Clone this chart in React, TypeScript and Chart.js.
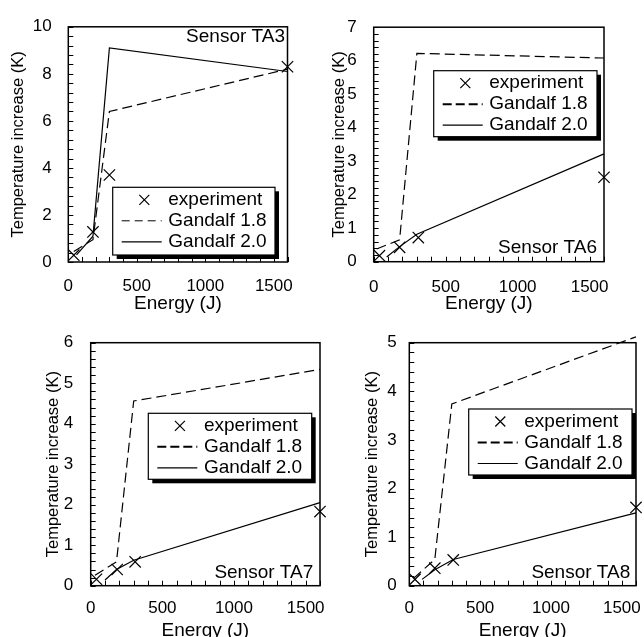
import React, { useEffect, useRef } from "react";
import { Chart, registerables } from "chart.js";
Chart.register(...registerables);

const FONT = "'Liberation Sans', Arial, Helvetica, sans-serif";
const INK = "#000";
const PAGE_W = 644;
const PAGE_H = 637;
const CW = 720;
const CH = 700;

// ---- shared axis data ----
const energyTicks = [0, 500, 1000, 1500];
const energyMax = 1600;
const energyMinorStep = 100;
const xTitle = "Energy (J)";
const yTitle = "Temperature increase (K)";
const seriesLabels = ["experiment", "Gandalf 1.8", "Gandalf 2.0"];

// ---- Sensor TA3 ----
const ta3Name = "Sensor TA3";
const ta3YTicks = [0, 2, 4, 6, 8, 10];
const ta3ExpE = [40, 180, 300, 1600];
const ta3ExpT = [0.29, 1.28, 3.7, 8.3];
const ta3G18E = [40, 180, 300, 1600];
const ta3G18T = [0.45, 0.95, 6.4, 8.2];
const ta3G20E = [60, 180, 300, 1600];
const ta3G20T = [0.3, 1.1, 9.1, 8.1];

// ---- Sensor TA6 ----
const ta6Name = "Sensor TA6";
const ta6YTicks = [0, 1, 2, 3, 4, 5, 6, 7];
const ta6ExpE = [40, 180, 310, 1600];
const ta6ExpT = [0.18, 0.43, 0.72, 2.52];
const ta6G18E = [20, 180, 300, 1600];
const ta6G18T = [0.38, 0.65, 6.22, 6.08];
const ta6G20E = [90, 180, 300, 1600];
const ta6G20T = [0.14, 0.45, 0.82, 3.22];

// ---- Sensor TA7 ----
const ta7Name = "Sensor TA7";
const ta7YTicks = [0, 1, 2, 3, 4, 5, 6];
const ta7ExpE = [40, 185, 310, 1600];
const ta7ExpT = [0.16, 0.4, 0.59, 1.83];
const ta7G18E = [30, 180, 300, 1600];
const ta7G18T = [0.26, 0.59, 4.56, 5.34];
const ta7G20E = [100, 180, 300, 1600];
const ta7G20T = [0.14, 0.4, 0.63, 2.05];

// ---- Sensor TA8 ----
const ta8Name = "Sensor TA8";
const ta8YTicks = [0, 1, 2, 3, 4, 5];
const ta8ExpE = [40, 180, 310, 1600];
const ta8ExpT = [0.13, 0.36, 0.53, 1.61];
const ta8G18E = [30, 180, 300, 1600];
const ta8G18T = [0.15, 0.54, 3.74, 5.12];
const ta8G20E = [90, 180, 310, 1600];
const ta8G20T = [0.13, 0.33, 0.54, 1.5];

type Layout = {
  left: number; right: number; top: number; bottom: number;
  yTitleX: number; yLabelPad: number; xLabelPad: number; xTitleY: number;
  legend: { x: number; y: number; w: number; h: number };
  legendDashWidth: number; legendDash: number[];
  sensorX: number; sensorY: number; yMinorStep: number;
};

type PanelCfg = {
  name: string; yTicks: number[];
  expE: number[]; expT: number[];
  g18E: number[]; g18T: number[];
  g20E: number[]; g20T: number[];
  layout: Layout;
};

const zip = (xs: number[], ys: number[]) => xs.map((x, i) => ({ x, y: ys[i] }));

const panels: PanelCfg[] = [
  {
    name: ta3Name, yTicks: ta3YTicks,
    expE: ta3ExpE, expT: ta3ExpT, g18E: ta3G18E, g18T: ta3G18T, g20E: ta3G20E, g20T: ta3G20T,
    layout: {
      left: 68.3, right: 287.5, top: 18, bottom: 262,
      yTitleX: 18.3, yLabelPad: 16.6, xLabelPad: 14.5, xTitleY: 303.3,
      legend: { x: 112.7, y: 187.3, w: 162.3, h: 67.7 },
      legendDashWidth: 1, legendDash: [8, 5],
      sensorX: 285, sensorY: 41.7, yMinorStep: 0.4,
    },
  },
  {
    name: ta6Name, yTicks: ta6YTicks,
    expE: ta6ExpE, expT: ta6ExpT, g18E: ta6G18E, g18T: ta6G18T, g20E: ta6G20E, g20T: ta6G20T,
    layout: {
      left: 373.7, right: 604, top: 18, bottom: 261.7,
      yTitleX: 339.5, yLabelPad: 17, xLabelPad: 15, xTitleY: 303.3,
      legend: { x: 433.7, y: 70.7, w: 163.3, h: 66 },
      legendDashWidth: 2, legendDash: [9, 4],
      sensorX: 597, sensorY: 253.3, yMinorStep: 0.2,
    },
  },
  {
    name: ta7Name, yTicks: ta7YTicks,
    expE: ta7ExpE, expT: ta7ExpT, g18E: ta7G18E, g18T: ta7G18T, g20E: ta7G20E, g20T: ta7G20T,
    layout: {
      left: 90.7, right: 320, top: 342.7, bottom: 585.7,
      yTitleX: 53.3, yLabelPad: 17.4, xLabelPad: 12.5, xTitleY: 630.6,
      legend: { x: 148.3, y: 413.3, w: 163.4, h: 66 },
      legendDashWidth: 2, legendDash: [9, 4],
      sensorX: 313.3, sensorY: 578.3, yMinorStep: 0.2,
    },
  },
  {
    name: ta8Name, yTicks: ta8YTicks,
    expE: ta8ExpE, expT: ta8ExpT, g18E: ta8G18E, g18T: ta8G18T, g20E: ta8G20E, g20T: ta8G20T,
    layout: {
      left: 409.3, right: 636, top: 342.7, bottom: 585.7,
      yTitleX: 372.7, yLabelPad: 12.5, xLabelPad: 12.5, xTitleY: 630.6,
      legend: { x: 468.7, y: 409, w: 163.3, h: 66 },
      legendDashWidth: 2, legendDash: [9, 4],
      sensorX: 630.3, sensorY: 578.3, yMinorStep: 0.2,
    },
  },
];

const TICK_SIZE = 17;
const XTITLE_SIZE = 19;
const YTITLE_SIZE = 16.5;
const TEXT_SIZE = 19;

function Panel({ cfg }: { cfg: PanelCfg }) {
  const ref = useRef<HTMLCanvasElement>(null);
  useEffect(() => {
    const canvas = ref.current!;
    const L = cfg.layout;
    const xH = L.xTitleY - L.bottom + (XTITLE_SIZE * 1.2) / 2;
    const yLeft = L.yTitleX - (YTITLE_SIZE * 1.2) / 2;
    const yMax = cfg.yTicks[cfg.yTicks.length - 1];

    const decor = {
      id: "decor",
      afterDraw(chart: any) {
        const ctx = chart.ctx as CanvasRenderingContext2D;
        const { left, right, top, bottom } = chart.chartArea;
        const xs = chart.scales.x;
        const ys = chart.scales.y;
        ctx.save();
        ctx.strokeStyle = INK;
        ctx.lineWidth = 1;
        ctx.setLineDash([]);
        ctx.beginPath();
        for (let i = 0; i * energyMinorStep <= energyMax + 1e-9; i++) {
          const px = Math.round(xs.getPixelForValue(i * energyMinorStep)) + 0.5;
          ctx.moveTo(px, bottom);
          ctx.lineTo(px, bottom - 5);
        }
        for (let i = 0; i * L.yMinorStep <= yMax + 1e-9; i++) {
          const py = Math.round(ys.getPixelForValue(i * L.yMinorStep)) + 0.5;
          ctx.moveTo(left, py);
          ctx.lineTo(left + 5, py);
        }
        ctx.stroke();
        ctx.lineWidth = 1.5;
        ctx.strokeRect(left, top, right - left, bottom - top);

        // legend box with drop shadow
        const lg = L.legend;
        ctx.fillStyle = INK;
        ctx.fillRect(lg.x + 4, lg.y + 4, lg.w, lg.h);
        ctx.fillStyle = "#fff";
        ctx.fillRect(lg.x, lg.y, lg.w, lg.h);
        ctx.lineWidth = 1.2;
        ctx.strokeRect(lg.x, lg.y, lg.w, lg.h);
        chart.data.datasets.forEach((ds: any, i: number) => {
          const cy = lg.y + 12.5 + 21 * i;
          ctx.strokeStyle = INK;
          if (!ds.showLine) {
            const cx = lg.x + 31.6;
            const h = 5;
            ctx.setLineDash([]);
            ctx.lineWidth = 1.2;
            ctx.beginPath();
            ctx.moveTo(cx - h, cy - h);
            ctx.lineTo(cx + h, cy + h);
            ctx.moveTo(cx + h, cy - h);
            ctx.lineTo(cx - h, cy + h);
            ctx.stroke();
          } else {
            const dashed = ds.borderDash && ds.borderDash.length > 0;
            ctx.setLineDash(dashed ? L.legendDash : []);
            ctx.lineWidth = dashed ? L.legendDashWidth : 1.2;
            ctx.beginPath();
            ctx.moveTo(lg.x + 9, cy);
            ctx.lineTo(lg.x + 49, cy);
            ctx.stroke();
            ctx.setLineDash([]);
          }
          ctx.fillStyle = INK;
          ctx.font = `${TEXT_SIZE}px ${FONT}`;
          ctx.textAlign = "left";
          ctx.textBaseline = "middle";
          ctx.fillText(ds.label, lg.x + 55.6, cy);
        });

        // sensor name
        ctx.fillStyle = INK;
        ctx.font = `${TEXT_SIZE}px ${FONT}`;
        ctx.textAlign = "right";
        ctx.textBaseline = "alphabetic";
        ctx.fillText(cfg.name, L.sensorX, L.sensorY);
        ctx.restore();
      },
    };

    const chart = new Chart(canvas, {
      type: "scatter",
      data: {
        datasets: [
          {
            label: seriesLabels[0],
            data: zip(cfg.expE, cfg.expT),
            showLine: false,
            pointStyle: "crossRot",
            pointRadius: 8,
            pointBorderWidth: 1.2,
            borderColor: INK,
            backgroundColor: "rgba(0,0,0,0)",
            clip: false,
          },
          {
            label: seriesLabels[1],
            data: zip(cfg.g18E, cfg.g18T),
            showLine: true,
            borderColor: INK,
            borderWidth: 1.2,
            borderDash: [10, 5],
            pointRadius: 0,
            tension: 0,
            clip: false,
          },
          {
            label: seriesLabels[2],
            data: zip(cfg.g20E, cfg.g20T),
            showLine: true,
            borderColor: INK,
            borderWidth: 1.2,
            borderDash: [],
            pointRadius: 0,
            tension: 0,
            clip: false,
          },
        ] as any,
      },
      options: {
        responsive: false,
        animation: false,
        events: [],
        layout: {
          padding: {
            left: yLeft,
            top: L.top,
            right: CW - L.right,
            bottom: CH - L.bottom - xH,
          },
        },
        plugins: {
          legend: { display: false },
          tooltip: { enabled: false },
          title: { display: false },
        },
        scales: {
          x: {
            type: "linear",
            min: 0,
            max: energyMax,
            afterBuildTicks: (s: any) => {
              s.ticks = energyTicks.map((v) => ({ value: v }));
            },
            afterFit: (s: any) => {
              s.height = xH;
            },
            grid: { display: false, drawTicks: false },
            border: { display: false },
            ticks: {
              padding: L.xLabelPad,
              autoSkip: false,
              maxRotation: 0,
              minRotation: 0,
              color: INK,
              font: { family: FONT, size: TICK_SIZE },
              callback: (v: any) => String(v),
            },
            title: {
              display: true,
              text: xTitle,
              color: INK,
              padding: 0,
              font: { family: FONT, size: XTITLE_SIZE },
            },
          },
          y: {
            type: "linear",
            min: 0,
            max: yMax,
            afterBuildTicks: (s: any) => {
              s.ticks = cfg.yTicks.map((v) => ({ value: v }));
            },
            afterFit: (s: any) => {
              s.width = L.left - yLeft;
            },
            grid: { display: false, drawTicks: false },
            border: { display: false },
            ticks: {
              padding: L.yLabelPad,
              autoSkip: false,
              color: INK,
              font: { family: FONT, size: TICK_SIZE },
              callback: (v: any) => String(v),
            },
            title: {
              display: true,
              text: yTitle,
              color: INK,
              padding: 0,
              font: { family: FONT, size: YTITLE_SIZE },
            },
          },
        },
      } as any,
      plugins: [decor],
    });
    return () => chart.destroy();
  }, [cfg]);
  return (
    <canvas
      ref={ref}
      width={CW}
      height={CH}
      style={{ position: "absolute", left: 0, top: 0, width: CW, height: CH }}
    />
  );
}

export default function App() {
  return (
    <div
      style={{
        position: "absolute",
        left: 0,
        top: 0,
        width: PAGE_W,
        height: PAGE_H,
        overflow: "hidden",
        background: "#fff",
      }}
    >
      {panels.map((p) => (
        <Panel key={p.name} cfg={p} />
      ))}
    </div>
  );
}
